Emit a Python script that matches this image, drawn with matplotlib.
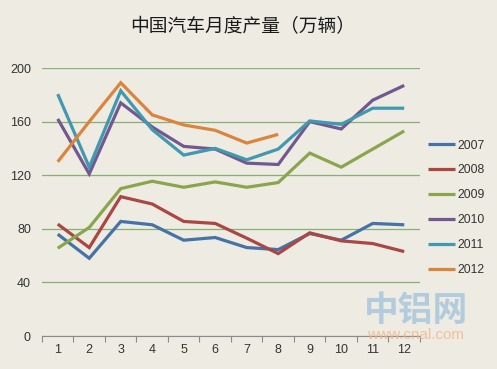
import matplotlib
matplotlib.use("Agg")
import matplotlib.pyplot as plt

plt.rcParams["font.family"] = ["Liberation Sans", "DejaVu Sans"]

BG = "#eeebe2"
GRID = "#86b074"

months = [str(m) for m in range(1, 13)]
years = ["2007", "2008", "2009", "2010", "2011", "2012"]
colors = ["#4572a7", "#aa4643", "#89a54e", "#71588f", "#4198af", "#db843d"]

# 万辆
prod_2007 = [76, 58, 85.5, 83, 71.5, 73.5, 66, 64.5, 76.5, 71.5, 84, 83]
prod_2008 = [83.5, 66, 104, 98.5, 85.5, 84, 73, 61.5, 77, 71, 69, 63]
prod_2009 = [65.5, 81, 110, 115.5, 111, 115, 111, 114.5, 136.5, 126, 139.5, 153]
prod_2010 = [162, 121, 174, 156, 141.5, 139.5, 129, 128, 160, 154.5, 176, 187]
prod_2011 = [180.5, 126, 183, 154, 135, 140, 131.5, 139.5, 160.5, 158, 170, 170]
prod_2012 = [130, 160, 189, 165, 157.5, 153.5, 144, 150.5]
series = [prod_2007, prod_2008, prod_2009, prod_2010, prod_2011, prod_2012]

fig = plt.figure(figsize=(4.97, 3.69), dpi=100, facecolor=BG)
ax = fig.add_axes([0.0845, 0.0894, 0.7605, 0.7263], facecolor=BG)

for yr, vals, c in zip(years, series, colors):
    ax.plot(months[:len(vals)], vals, color=c, lw=2.3, label=yr,
            solid_joinstyle="miter", solid_capstyle="butt")

ax.set_xlim(-0.5, 11.5)
ax.set_ylim(0, 200)
ax.set_yticks(range(0, 201, 40))
ax.grid(axis="y", color=GRID, lw=0.9)
ax.set_axisbelow(True)
for s in ("top", "right", "left"):
    ax.spines[s].set_visible(False)
ax.spines["bottom"].set_color("#8a8a8a")
ax.spines["bottom"].set_linewidth(0.8)

# category ticks sit between the months
ax.set_xticks([i - 0.5 for i in range(13)], minor=True)
ax.tick_params(axis="x", which="minor", length=4, color="#8a8a8a", width=0.8)
ax.tick_params(axis="x", which="major", length=0, pad=6,
               labelsize=9, labelcolor="#333333")
ax.tick_params(axis="y", length=0, pad=8, labelsize=9, labelcolor="#333333")

fig.text(0.489, 0.927, "中国汽车月度产量（万辆）", ha="center", va="center",
         fontsize=13.5, color="#1a1a1a", family=["Noto Sans CJK SC", "DejaVu Sans"])

fig.legend(loc="center left", bbox_to_anchor=(0.862, 0.437), frameon=False,
           fontsize=8.8, handlelength=2.2, handletextpad=0.15,
           labelspacing=1.05, borderpad=0, borderaxespad=0,
           labelcolor="#333333")

# watermark
fig.text(0.837, 0.158, "中铝网", ha="center", va="center", fontsize=25,
         fontweight="bold", color="#9ec2dc", alpha=0.75,
         family=["Noto Sans CJK SC", "DejaVu Sans"])
fig.text(0.837, 0.092, "www.cnal.com", ha="center", va="center", fontsize=11,
         color="#f0b48a", alpha=0.8)

fig.savefig("out.png", dpi=100, facecolor=BG)
